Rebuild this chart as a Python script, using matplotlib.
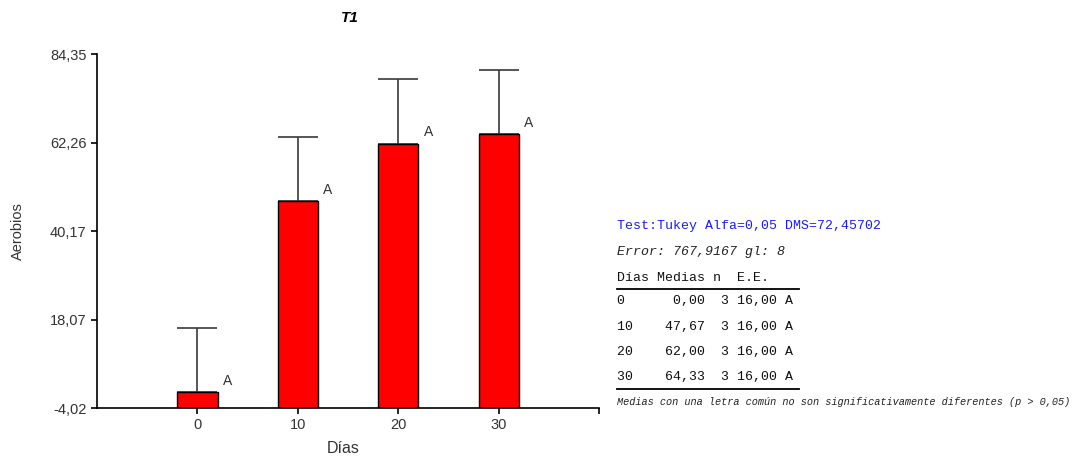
import numpy as np
import matplotlib
matplotlib.use('Agg')
import matplotlib.pyplot as plt
from matplotlib.lines import Line2D

# Medias por día (Tukey, T1)
dias = [0, 10, 20, 30]
medias = [0.00, 47.67, 62.00, 64.33]
n_obs = [3, 3, 3, 3]
ee = [16.00, 16.00, 16.00, 16.00]
letras = ['A', 'A', 'A', 'A']
yticks = [-4.02, 18.07, 40.17, 62.26, 84.35]

titulo_test = 'Test:Tukey Alfa=0,05 DMS=72,45702'
linea_error = 'Error: 767,9167 gl: 8'
nota = 'Medias con una letra común no son significativamente diferentes (p > 0,05)'


def coma(v):
    return f'{v:.2f}'.replace('.', ',')


fig = plt.figure(figsize=(10.78, 4.59), dpi=100)
ax = fig.add_axes([0.09, 0.111, 0.4657, 0.7713])

ymin, ymax = yticks[0], yticks[-1]
m = np.array(medias)
ax.bar(dias, m - ymin, bottom=ymin, width=4, color='#ff0000',
       edgecolor='black', linewidth=1.0, zorder=2)
ax.errorbar(dias, m, yerr=[np.zeros(len(ee)), ee], fmt='none',
            ecolor='#3a3a3a', elinewidth=1.2, capsize=14.4, capthick=1.2, zorder=1)
for x, v, l in zip(dias, medias, letras):
    ax.annotate(l, (x + 2, v), xytext=(4, 3), textcoords='offset points',
                ha='left', va='bottom', fontsize=10, color='#333333',
                family='Liberation Sans')

ax.set_xlim(-10, 40)
ax.set_ylim(ymin, ymax)
ax.set_yticks(yticks)
ax.set_yticklabels([coma(t) for t in yticks])
ax.set_xticks(dias + [40])
ax.set_xticklabels([str(d) for d in dias] + [''])
ax.spines['top'].set_visible(False)
ax.spines['right'].set_visible(False)
for s in ('left', 'bottom'):
    ax.spines[s].set_linewidth(1.2)
ax.tick_params(length=4, width=1.2, labelsize=10.5, colors='black', labelcolor='#333333')
for lab in ax.get_xticklabels() + ax.get_yticklabels():
    lab.set_family('Liberation Sans')

ax.set_xlabel('Días', fontsize=11.5, family='Liberation Sans', color='#333333', va='center')
ax.xaxis.set_label_coords(0.49, -0.113)
ax.set_ylabel('Aerobios', fontsize=10.5, family='Liberation Sans', color='#333333', va='center')
ax.yaxis.set_label_coords(-0.157, 0.5)
fig.text(0.325, 0.96, 'T1', ha='center', va='center', fontsize=11,
         fontweight='bold', fontstyle='italic', family='Liberation Sans')

# Tabla de resultados del test
x0 = 617 / 1078
mono = 'Liberation Mono'
def ypx(p):
    return 1 - p / 459

fig.text(x0, ypx(226), titulo_test, color='#1a1aff', fontsize=9.5,
         family=mono, va='center')
fig.text(x0, ypx(252), linea_error, color='#222222', fontsize=9.5,
         family=mono, style='italic', va='center')
fig.text(x0, ypx(278), 'Días Medias n  E.E.', color='#111111', fontsize=9.5,
         family=mono, va='center')
for i, (d, v, k, e, l) in enumerate(zip(dias, medias, n_obs, ee, letras)):
    fila = f'{d:<5}{coma(v):>6}  {k} {coma(e)} {l}'
    fig.text(x0, ypx(301 + i * 25.5), fila, color='#111111', fontsize=9.5,
             family=mono, va='center')
for yl in (289, 389):
    fig.add_artist(Line2D([x0, 799 / 1078], [ypx(yl), ypx(yl)],
                          color='black', linewidth=1.3))
fig.text(x0, ypx(402), nota, color='#222222', fontsize=7.4,
         family=mono, style='italic', va='center')

fig.savefig('out.png', dpi=100, facecolor='white')
